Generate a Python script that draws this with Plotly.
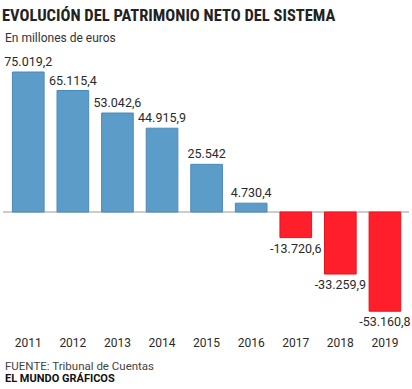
import plotly.graph_objects as go

years = ["2011", "2012", "2013", "2014", "2015", "2016", "2017", "2018", "2019"]
values = [75019.2, 65115.4, 53042.6, 44915.9, 25542, 4730.4, -13720.6, -33259.9, -53160.8]

title_text = "EVOLUCIÓN DEL PATRIMONIO NETO DEL SISTEMA"
subtitle_text = "En millones de euros"
source_text = "FUENTE: Tribunal de Cuentas"
credit_text = "EL MUNDO GRÁFICOS"

POS_FILL, POS_LINE = "#5b9cc9", "#4a8abb"
NEG_FILL, NEG_LINE = "#ff1f2b", "#e5141e"


def fmt(v):
    s = f"{abs(v):,.1f}" if v != int(v) else f"{abs(int(v)):,}"
    s = s.replace(",", "X").replace(".", ",").replace("X", ".")
    return ("-" if v < 0 else "") + s


labels = [fmt(v) for v in values]
fills = [POS_FILL if v >= 0 else NEG_FILL for v in values]
lines = [POS_LINE if v >= 0 else NEG_LINE for v in values]

W, H = 412, 389
T, B = 60, 64
plot_bottom = H - B
plot_h = H - T - B


def py(pix):
    return (plot_bottom - pix) / plot_h


fig = go.Figure(
    go.Bar(
        x=years,
        y=values,
        width=0.71,
        marker=dict(color=fills, line=dict(color=lines, width=1)),
        text=labels,
        textposition="outside",
        constraintext="none",
        textangle=0,
        textfont=dict(family="Roboto", size=12.5, color="#2a2a2a"),
        cliponaxis=False,
        hoverinfo="skip",
    )
)

fig.update_layout(
    width=W,
    height=H,
    margin=dict(l=3, r=3, t=T, b=B),
    paper_bgcolor="white",
    plot_bgcolor="white",
    showlegend=False,
    bargap=0.29,
    xaxis=dict(
        type="category",
        range=[-0.567, 8.54],
        showgrid=False,
        zeroline=False,
        showline=False,
        ticks="outside",
        ticklen=7,
        tickcolor="rgba(0,0,0,0)",
        tickfont=dict(family="Roboto", size=12, color="#2a2a2a"),
        fixedrange=True,
    ),
    yaxis=dict(
        range=[-60557, 81460],
        showgrid=False,
        showticklabels=False,
        zeroline=True,
        zerolinecolor="#cccccc",
        zerolinewidth=1.5,
        fixedrange=True,
    ),
    annotations=[
        dict(text=f"<b>{title_text}</b>", x=0, xref="paper", y=py(15), yref="paper",
             xanchor="left", yanchor="middle", showarrow=False, xshift=-3,
             font=dict(family="Liberation Sans Narrow, Roboto Condensed, sans-serif", size=16.5, color="#222")),
        dict(text=subtitle_text, x=0, xref="paper", y=py(38), yref="paper",
             xanchor="left", yanchor="middle", showarrow=False, xshift=0,
             font=dict(family="Roboto", size=12, color="#333")),
        dict(text=source_text, x=0, xref="paper", y=py(366), yref="paper",
             xanchor="left", yanchor="middle", showarrow=False, xshift=0,
             font=dict(family="Roboto", size=11.5, color="#444")),
        dict(text=f"<b>{credit_text}</b>", x=0, xref="paper", y=py(378), yref="paper",
             xanchor="left", yanchor="middle", showarrow=False, xshift=0,
             font=dict(family="Roboto", size=11, color="#111")),
    ],
)

fig.write_html("out.html")
